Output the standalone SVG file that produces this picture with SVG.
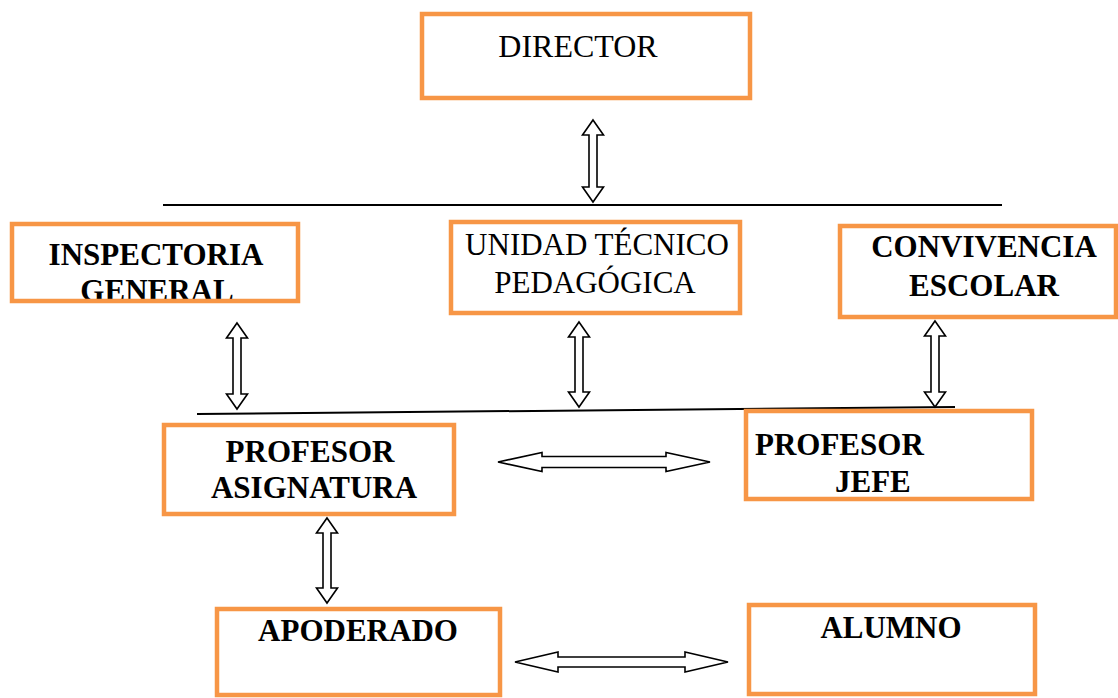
<svg xmlns="http://www.w3.org/2000/svg" width="1118" height="698" viewBox="0 0 1118 698">
<style>
.box{fill:none;stroke:#F79646;stroke-width:4.5}
text{font-family:'Liberation Serif','Times New Roman',Times,serif;font-size:31px;fill:#000}
.b{font-weight:bold}
.m{text-anchor:middle}
.arr{fill:#fff;stroke:#000;stroke-width:1.6;stroke-linejoin:miter}
.ln{stroke:#000;stroke-width:2;fill:none}
</style>
<rect width="1118" height="698" fill="#fff"/>
<g id="connectors">
<line class="ln" x1="163" y1="205" x2="1002" y2="205"/>
<line class="ln" x1="197" y1="414" x2="955" y2="407"/>
<path class="arr" d="M593,120 L603.5,135 L597,135 L597,187 L603.5,187 L593,202 L582.5,187 L589,187 L589,135 L582.5,135 Z"/>
<path class="arr" d="M237,323 L247.5,338 L241,338 L241,394 L247.5,394 L237,409 L226.5,394 L233,394 L233,338 L226.5,338 Z"/>
<path class="arr" d="M579,322 L589.5,337 L583,337 L583,392 L589.5,392 L579,407 L568.5,392 L575,392 L575,337 L568.5,337 Z"/>
<path class="arr" d="M935,321 L945.5,336 L939,336 L939,392 L945.5,392 L935,407 L924.5,392 L931,392 L931,336 L924.5,336 Z"/>
<path class="arr" d="M327,518 L337.5,533 L331,533 L331,588 L337.5,588 L327,603 L316.5,588 L323,588 L323,533 L316.5,533 Z"/>
<path class="arr" d="M498,462 L542,452.5 L542,456.5 L666,456.5 L666,452.5 L710,462 L666,471.5 L666,467.5 L542,467.5 L542,471.5 Z"/>
<path class="arr" d="M515,662 L558,652 L558,657 L685,657 L685,652 L728,662 L685,672 L685,667 L558,667 L558,672 Z"/>
</g>
<g id="director">
<rect class="box" x="422" y="14" width="328" height="84"/>
<text x="578" y="57" text-anchor="middle" style="font-size:32px">DIRECTOR</text>
</g>
<g id="inspectoria">
<text class="b m" x="156" y="265">INSPECTORIA</text>
<text class="b m" x="157" y="301">GENERAL</text>
<rect class="box" x="12" y="224" width="286" height="77"/>
</g>
<g id="utp">
<rect class="box" x="451" y="222" width="289" height="91"/>
<text class="m" x="597" y="255">UNIDAD TÉCNICO</text>
<text class="m" x="595" y="293">PEDAGÓGICA</text>
</g>
<g id="convivencia">
<rect class="box" x="840" y="226" width="276" height="91"/>
<text class="b m" x="984" y="257">CONVIVENCIA</text>
<text class="b m" x="984" y="296">ESCOLAR</text>
</g>
<g id="profesor-asignatura">
<rect class="box" x="164" y="425" width="290" height="89"/>
<text class="b m" x="310" y="462">PROFESOR</text>
<text class="b m" x="314" y="498">ASIGNATURA</text>
</g>
<g id="profesor-jefe">
<rect class="box" x="746" y="411" width="286" height="88"/>
<text class="b" x="755" y="455">PROFESOR</text>
<text class="b" x="835" y="492">JEFE</text>
</g>
<g id="apoderado">
<rect class="box" x="217" y="609" width="283" height="86"/>
<text class="b m" x="358" y="641">APODERADO</text>
</g>
<g id="alumno">
<rect class="box" x="749" y="605" width="286" height="89"/>
<text class="b m" x="891" y="638">ALUMNO</text>
</g>
</svg>
